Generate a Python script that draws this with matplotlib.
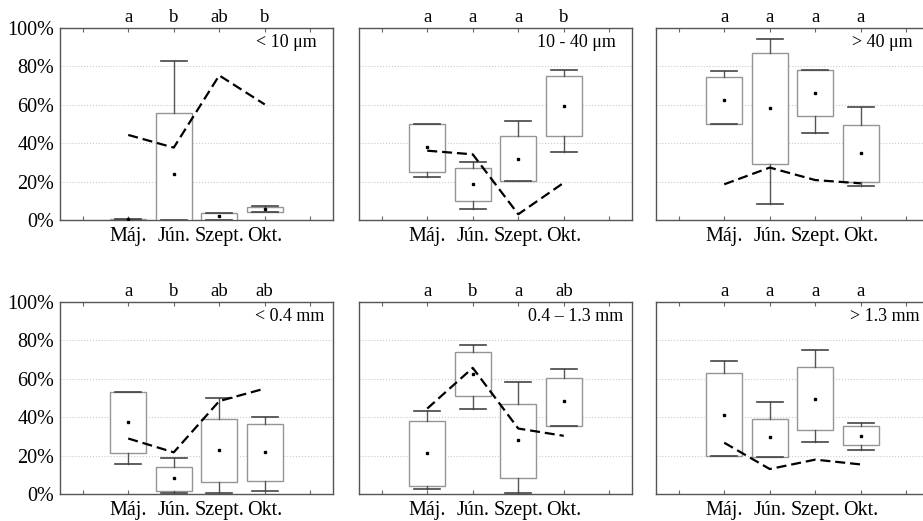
import matplotlib
matplotlib.use("Agg")
import matplotlib.pyplot as plt

plt.rcParams['font.family'] = ['Liberation Serif', 'DejaVu Serif']

months = ["Máj.", "Jún.", "Szept.", "Okt."]
titles = ["< 10 μm", "10 - 40 μm", "> 40 μm", "< 0.4 mm", "0.4 – 1.3 mm", "> 1.3 mm"]
letters = [["a", "b", "ab", "b"], ["a", "a", "a", "b"], ["a", "a", "a", "a"],
           ["a", "b", "ab", "ab"], ["a", "b", "a", "ab"], ["a", "a", "a", "a"]]

whislo = [[0, 0, 0, 4.0], [22.2, 5.6, 20.1, 35.2], [50.0, 8.3, 45.1, 17.5],
          [15.4, 0.3, 0.3, 1.7], [2.4, 44.5, 0.3, 35.4], [19.8, 19.4, 27.2, 22.7]]
q1 = [[0, 0, 0, 4.0], [25.0, 9.7, 20.1, 43.8], [50.0, 29.0, 54.0, 20.0],
      [21.5, 1.6, 6.1, 6.9], [4.2, 51.3, 8.3, 35.4], [19.8, 19.4, 33.1, 25.3]]
mean = [[0.3, 23.8, 2.1, 5.5], [37.8, 18.6, 31.9, 59.5], [62.5, 58.2, 66.1, 34.9],
        [37.3, 8.1, 22.9, 22.0], [21.5, 62.7, 28.1, 48.2], [41.4, 29.5, 49.7, 30.3]]
q3 = [[0.5, 55.6, 3.5, 6.6], [50.0, 26.9, 43.6, 75.0], [74.7, 86.8, 78.0, 49.7],
      [53.2, 14.2, 39.2, 36.4], [38.1, 74.0, 47.1, 60.5], [62.9, 39.2, 65.9, 35.4]]
whishi = [[0.5, 82.8, 3.5, 7.5], [50.0, 30.2, 51.7, 78.1], [77.8, 94.1, 78.0, 58.7],
          [53.2, 18.9, 50.1, 40.2], [43.2, 77.8, 58.1, 65.2], [69.3, 48.0, 75.0, 37.1]]
line = [[44.3, 37.7, 75.3, 60.2], [36.1, 34.2, 3.0, 19.4], [18.6, 27.3, 20.8, 19.1],
        [28.9, 21.7, 48.4, 54.9], [44.5, 65.7, 34.1, 30.3], [26.7, 13.0, 17.9, 15.4]]

W, H = 923, 521
fig = plt.figure(figsize=(W / 100, H / 100), dpi=100)

lefts = [60, 359, 656]
tops = [28, 302]
aw, ah = 273, 192
fs_tick = 14.5
fs_title = 13
fs_letter = 13.5

positions = [1, 2, 3, 4]
for p in range(6):
    r, c = divmod(p, 3)
    ax = fig.add_axes([lefts[c] / W, (H - tops[r] - ah) / H, aw / W, ah / H])
    stats = []
    for i in range(4):
        stats.append(dict(whislo=whislo[p][i], q1=q1[p][i], med=mean[p][i],
                          q3=q3[p][i], whishi=whishi[p][i], mean=mean[p][i]))
    ax.bxp(stats, positions=positions, widths=0.8, capwidths=0.58,
           showfliers=False, showmeans=True, patch_artist=True,
           boxprops=dict(facecolor='white', edgecolor='#959595', linewidth=1.0),
           whiskerprops=dict(color='#555555', linewidth=1.0),
           capprops=dict(color='#444444', linewidth=1.2),
           medianprops=dict(linewidth=0),
           meanprops=dict(marker='s', markersize=2.0, markerfacecolor='black',
                          markeredgecolor='black'),
           zorder=3)
    ax.plot(positions, line[p], color='black', linestyle=(0, (4.5, 2.2)),
            linewidth=1.6, zorder=4)
    ax.set_xlim(-0.5, 5.5)
    ax.set_ylim(0, 100)
    ax.set_xticks([0, 1, 2, 3, 4, 5])
    ax.set_xticklabels([""] + months + [""], fontsize=fs_tick)
    ax.set_yticks([0, 20, 40, 60, 80, 100])
    if c == 0:
        ax.set_yticklabels(["0%", "20%", "40%", "60%", "80%", "100%"], fontsize=fs_tick)
    else:
        ax.set_yticklabels([])
    ax.tick_params(axis='x', direction='in', length=3, top=True, pad=5,
                   color='#666666')
    ax.tick_params(axis='y', direction='in', length=0, pad=4)
    for yv in [20, 40, 60, 80]:
        ax.axhline(yv, color='#cccccc', linestyle=':', linewidth=0.8, zorder=0)
    for s in ax.spines.values():
        s.set_color('#555555')
        s.set_linewidth(1.0)
    for i, lab in enumerate(letters[p]):
        ax.text(positions[i], 1.055, lab, transform=ax.get_xaxis_transform(),
                ha='center', va='center', fontsize=fs_letter)
    tx = 0.941 if r == 0 else 0.967
    ax.text(tx, 0.922, titles[p], transform=ax.transAxes, ha='right',
            va='center', fontsize=fs_title)

fig.savefig("out.png", dpi=100)
